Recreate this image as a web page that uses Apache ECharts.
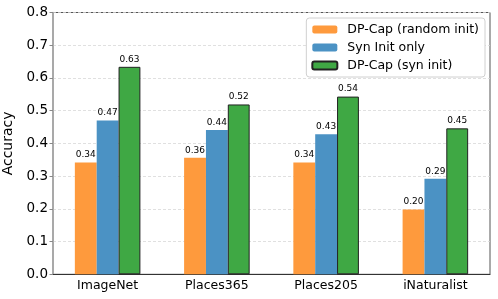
<!DOCTYPE html>
<html><head><meta charset="utf-8">
<script src="https://cdn.jsdelivr.net/npm/echarts@6/dist/echarts.min.js"></script>
<style>html,body{margin:0;padding:0;background:#fff}#c{width:498px;height:299px}</style>
</head><body><div id="c"></div>
<script>
var categories = ['ImageNet', 'Places365', 'Places205', 'iNaturalist'];
var randomInit = [0.342, 0.356, 0.342, 0.198];
var synOnly = [0.470, 0.441, 0.428, 0.292];
var synInit = [0.634, 0.519, 0.543, 0.446];
var seriesNames = ['DP-Cap (random init)', 'Syn Init only', 'DP-Cap (syn init)'];
var yTicks = [0.0, 0.1, 0.2, 0.3, 0.4, 0.5, 0.6, 0.7, 0.8];

var FONT = 'DejaVu Sans';
var chart = echarts.init(document.getElementById('c'), null, {renderer: 'canvas'});
function lbl() {
  return {show: true, position: 'top', distance: 3, fontFamily: FONT, fontSize: 9, color: '#000',
    formatter: function (p) { return p.value.toFixed(2); }};
}
chart.setOption({
  animation: false,
  textStyle: {fontFamily: FONT},
  grid: {left: 53, right: 8, top: 12.5, bottom: 24.7, containLabel: false, outerBoundsMode: 'none',
    show: true, borderColor: '#555', borderWidth: 1},
  legend: {
    data: seriesNames, orient: 'vertical', right: 13, top: 18,
    itemWidth: 25, itemHeight: 8, itemGap: 3,
    backgroundColor: '#fff', borderColor: '#d0d0d0', borderWidth: 1, borderRadius: 3,
    padding: [4, 6, 4, 5],
    textStyle: {fontFamily: FONT, fontSize: 12.5, lineHeight: 15, color: '#000', padding: [0, 0, 0, 5]}
  },
  xAxis: {
    type: 'category', data: categories,
    axisLine: {lineStyle: {color: '#333', width: 1}},
    axisTick: {alignWithLabel: true, length: 3.5, lineStyle: {color: '#888'}},
    axisLabel: {fontFamily: FONT, fontSize: 12.5, color: '#000', margin: 5}
  },
  yAxis: {
    type: 'value', min: yTicks[0], max: yTicks[yTicks.length - 1], interval: 0.1,
    name: 'Accuracy', nameLocation: 'middle', nameGap: 31,
    nameTextStyle: {fontFamily: FONT, fontSize: 14, color: '#000'},
    axisLine: {show: true, lineStyle: {color: '#aaa', width: 1.5}},
    axisTick: {show: true, length: 3.5, lineStyle: {color: '#888'}},
    axisLabel: {fontFamily: FONT, fontSize: 13.5, color: '#000', margin: 5,
      formatter: function (v) { return v.toFixed(1); }},
    splitLine: {lineStyle: {color: '#d8d8d8', type: [3, 2], width: 0.8}}
  },
  series: [
    {name: seriesNames[0], type: 'bar', data: randomInit, barGap: '0%', barCategoryGap: '40%',
      itemStyle: {color: '#fe9a3d'}, label: lbl()},
    {name: seriesNames[1], type: 'bar', data: synOnly, barGap: '0%', barCategoryGap: '40%',
      itemStyle: {color: '#4b92c4'}, label: lbl()},
    {name: seriesNames[2], type: 'bar', data: synInit, barGap: '0%', barCategoryGap: '40%',
      itemStyle: {color: '#3fa844', borderColor: '#222', borderWidth: 1}, label: lbl()}
  ]
});
</script></body></html>
